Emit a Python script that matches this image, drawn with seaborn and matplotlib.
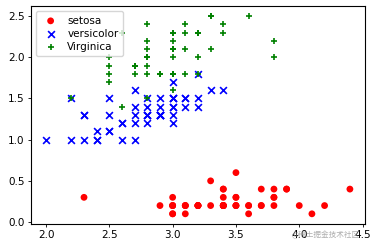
import matplotlib
matplotlib.use("Agg")
import matplotlib.pyplot as plt
import seaborn as sns
import pandas as pd

setosa_sw = [3.5,3.0,3.2,3.1,3.6,3.9,3.4,3.4,2.9,3.1,3.7,3.4,3.0,3.0,4.0,4.4,3.9,3.5,3.8,3.8,
             3.4,3.7,3.6,3.3,3.4,3.0,3.4,3.5,3.4,3.2,3.1,3.4,4.1,4.2,3.1,3.2,3.5,3.6,3.0,3.4,
             3.5,2.3,3.2,3.5,3.8,3.0,3.8,3.2,3.7,3.3]
setosa_pw = [0.2,0.2,0.2,0.2,0.2,0.4,0.3,0.2,0.2,0.1,0.2,0.2,0.1,0.1,0.2,0.4,0.4,0.3,0.3,0.3,
             0.2,0.4,0.2,0.5,0.2,0.2,0.4,0.2,0.2,0.2,0.2,0.4,0.1,0.2,0.2,0.2,0.2,0.1,0.2,0.2,
             0.3,0.3,0.2,0.6,0.4,0.3,0.2,0.2,0.2,0.2]
versi_sw = [3.2,3.2,3.1,2.3,2.8,2.8,3.3,2.4,2.9,2.7,2.0,3.0,2.2,2.9,2.9,3.1,3.0,2.7,2.2,2.5,
            3.2,2.8,2.5,2.8,2.9,3.0,2.8,3.0,2.9,2.6,2.4,2.4,2.7,2.7,3.0,3.4,3.1,2.3,3.0,2.5,
            2.6,3.0,2.6,2.3,2.7,3.0,2.9,2.9,2.5,2.8]
versi_pw = [1.4,1.5,1.5,1.3,1.5,1.3,1.6,1.0,1.3,1.4,1.0,1.5,1.0,1.4,1.3,1.4,1.5,1.0,1.5,1.1,
            1.8,1.3,1.5,1.2,1.3,1.4,1.4,1.7,1.5,1.0,1.1,1.0,1.2,1.6,1.5,1.6,1.5,1.3,1.3,1.3,
            1.2,1.4,1.2,1.0,1.3,1.2,1.3,1.3,1.1,1.3]
virg_sw = [3.3,2.7,3.0,2.9,3.0,3.0,2.5,2.9,2.5,3.6,3.2,2.7,3.0,2.5,2.8,3.2,3.0,3.8,2.6,2.2,
           3.2,2.8,2.8,2.7,3.3,3.2,2.8,3.0,2.8,3.0,2.8,3.8,2.8,2.8,2.6,3.0,3.4,3.1,3.0,3.1,
           3.1,3.1,2.7,3.2,3.3,3.0,2.5,3.0,3.4,3.0]
virg_pw = [2.5,1.9,2.1,1.8,2.2,2.1,1.7,1.8,1.8,2.5,2.0,1.9,2.1,2.0,2.4,2.3,1.8,2.2,2.3,1.5,
           2.3,2.0,2.0,1.8,2.1,1.8,1.8,1.8,2.1,1.6,1.9,2.0,2.2,1.5,1.4,2.3,2.4,1.8,1.8,2.1,
           2.4,2.3,1.9,2.3,2.5,2.3,1.9,2.0,2.3,1.8]
labels = ["setosa", "versicolor", "Virginica"]

df = pd.DataFrame({
    "x": setosa_sw + versi_sw + virg_sw,
    "y": setosa_pw + versi_pw + virg_pw,
    "species": [labels[0]] * len(setosa_sw) + [labels[1]] * len(versi_sw) + [labels[2]] * len(virg_sw),
})

fig = plt.figure(figsize=(3.76, 2.48), dpi=100)
ax = fig.add_axes([0.082, 0.098, 0.889, 0.877])
palette = {labels[0]: "red", labels[1]: "blue", labels[2]: "green"}
markers = {labels[0]: "o", labels[1]: "x", labels[2]: "+"}
for lab in labels:
    sub = df[df.species == lab]
    if markers[lab] == "o":
        sns.scatterplot(data=sub, x="x", y="y", color=palette[lab], marker="o", s=24,
                        edgecolor="none", label=lab, ax=ax)
    else:
        sns.scatterplot(data=sub, x="x", y="y", color=palette[lab], marker=markers[lab], s=24,
                        linewidth=1.2, label=lab, ax=ax)

ax.set_xlabel("")
ax.set_ylabel("")
ax.set_xticks([2.0, 2.5, 3.0, 3.5, 4.0, 4.5])
ax.set_yticks([0.0, 0.5, 1.0, 1.5, 2.0, 2.5])
ax.tick_params(labelsize=7.5, length=2.5, width=0.6, pad=2)
for sp in ax.spines.values():
    sp.set_linewidth(0.8)
ax.legend(loc="upper left", fontsize=7.5, handletextpad=0.6, borderpad=0.4,
          labelspacing=0.3, frameon=True)
fig.text(0.958, 0.035, "@稀土掘金技术社区", fontsize=5.5, color="#9a9a9a", alpha=0.8,
         ha="right", va="bottom", family=["Noto Sans CJK SC", "DejaVu Sans"])
fig.savefig("out.png", dpi=100)
